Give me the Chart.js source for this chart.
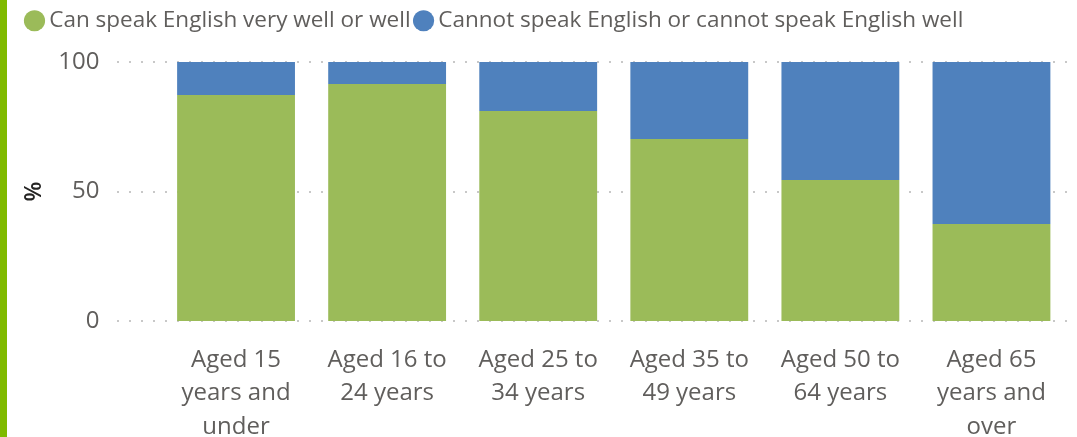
<!DOCTYPE html>
<html>
<head>
<meta charset="utf-8">
<script src="https://cdn.jsdelivr.net/npm/chart.js@4/dist/chart.umd.min.js"></script>
<style>
  html, body { margin: 0; padding: 0; background: #fff; }
  #wrap { position: relative; width: 1070px; height: 437px; border-left: 7px solid #7fba00; overflow: hidden; }
</style>
</head>
<body>
<div id="wrap"><canvas id="chart-english"></canvas></div>
<script>
// values (% of each age group)
const categories = ["Aged 15 years and under", "Aged 16 to 24 years", "Aged 25 to 34 years",
                    "Aged 35 to 49 years", "Aged 50 to 64 years", "Aged 65 years and over"];
const speakWell    = [87.3, 91.5, 81.1, 70.3, 54.4, 37.5];
const notSpeakWell = [12.7, 8.5, 18.9, 29.7, 45.6, 62.5];
const yTicks = [0, 50, 100];

const FONT = "'Open Sans', 'Noto Sans', sans-serif";
const TEXT = "#605e5c";

// split a category into short lines, like the reference does
function wrap(label, max = 10) {
  const lines = [];
  let cur = "";
  for (const w of label.split(" ")) {
    const next = cur ? cur + " " + w : w;
    if (next.length > max && cur) { lines.push(cur); cur = w; }
    else cur = next;
  }
  if (cur) lines.push(cur);
  return lines;
}

// dotted gridlines that start left of the plot area, as in the reference
const dottedGrid = {
  id: "dottedGrid",
  beforeDatasetsDraw(chart) {
    const { ctx, chartArea, scales } = chart;
    ctx.save();
    ctx.strokeStyle = "#c8c8c8";
    ctx.lineWidth = 2;
    ctx.setLineDash([2, 10]);
    yTicks.forEach(v => {
      const y = Math.round(scales.y.getPixelForValue(v));
      ctx.beginPath();
      ctx.moveTo(110, y);
      ctx.lineTo(chartArea.right, y);
      ctx.stroke();
    });
    ctx.restore();
  }
};

new Chart(document.getElementById("chart-english").getContext("2d"), {
  type: "bar",
  data: {
    labels: categories,
    datasets: [
      { label: "Can speak English very well or well", data: speakWell, backgroundColor: "#9bbb59",
        barPercentage: 1, categoryPercentage: 0.78 },
      { label: "Cannot speak English or cannot speak English well", data: notSpeakWell, backgroundColor: "#4f81bd",
        barPercentage: 1, categoryPercentage: 0.78 },
    ],
  },
  options: {
    responsive: true, maintainAspectRatio: false, animation: false,
    layout: { padding: { top: 0, right: 10, left: 14.5, bottom: 0 } },
    plugins: {
      tooltip: { enabled: false },
      legend: {
        display: true, position: "top", align: "start",
        labels: { usePointStyle: true, pointStyle: "circle", boxHeight: 15, boxWidth: 7, padding: 9.5,
                  color: TEXT, font: { family: FONT, size: 22.5 } },
      },
      // empty title used only as a gap between legend and plot
      title: { display: true, text: "", position: "top", weight: 500, padding: 0,
               font: { size: 10, lineHeight: "20px" } },
    },
    scales: {
      x: {
        stacked: true,
        grid: { display: false, drawTicks: false }, border: { display: false },
        ticks: { color: TEXT, font: { family: FONT, size: 24, lineHeight: 1.4 }, padding: 22, maxRotation: 0, autoSkip: false,
                 callback(v) { return wrap(categories[v]); } },
        afterFit(s) { s.height = 116; },
      },
      y: {
        stacked: true, min: 0, max: 100,
        grid: { display: false, drawTicks: false }, border: { display: false },
        ticks: { color: TEXT, font: { family: FONT, size: 24 }, padding: 61,
                 callback(v) { return yTicks.includes(v) ? v : null; }, stepSize: 50 },
        title: { display: true, text: "%", color: "#252423", font: { family: FONT, size: 23, weight: "600", lineHeight: 1 },
                 padding: { top: 1, bottom: 0 } },
        afterFit(s) { s.width = 139; s.paddingTop = 0; s.paddingBottom = 0; },
      },
    },
  },
  plugins: [dottedGrid],
});
</script>
</body>
</html>
